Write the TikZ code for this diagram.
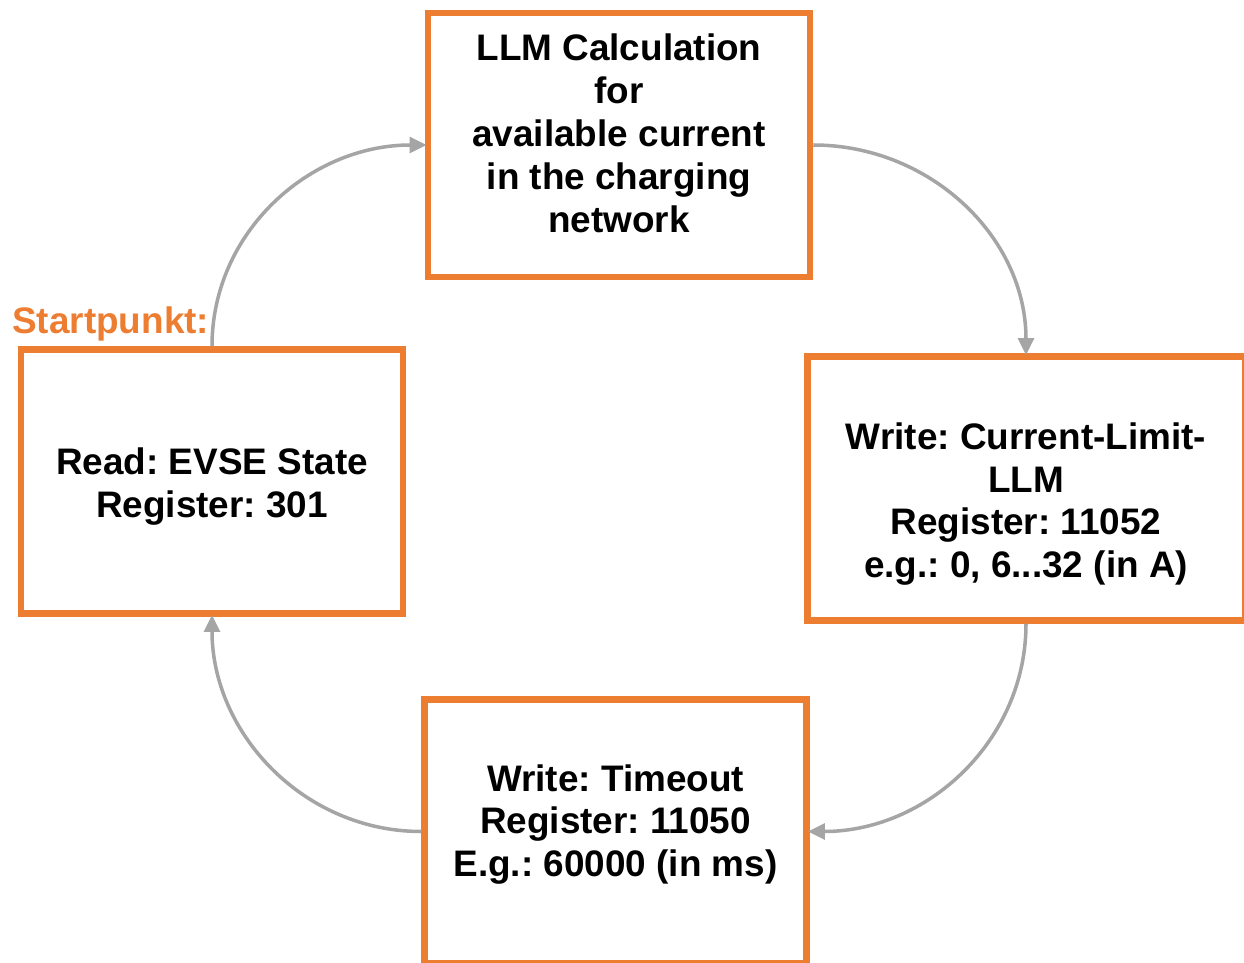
\documentclass[tikz,border=0pt]{standalone}
\usepackage{fontspec}
\setmainfont{Liberation Sans}
\frenchspacing
\usepackage{tikz}
\usetikzlibrary{arrows.meta, positioning}
\usepackage{xcolor}
\definecolor{boxorange}{HTML}{ED7D31}
\definecolor{flowgray}{HTML}{A5A5A5}
% struts that move the text inside a fixed box
\newcommand{\lowerby}[1]{\rule{0pt}{#1}}
\newcommand{\raiseby}[1]{\rule[-#1]{0pt}{#1}}

\begin{document}
\begin{tikzpicture}[
    font=\fontsize{21}{24.4}\selectfont\bfseries,
    stepbox/.style={draw=boxorange, line width=0.13cm, align=center,
                    minimum width=#1, minimum height=5.28cm, inner sep=2pt},
    flow/.style={-{Triangle[length=9.6pt, width=9pt]}, line width=2pt,
                 flowgray, shorten >=-1pt},
  ]
    \useasboundingbox (0,0) rectangle (24.88,-19.26);
    \node[stepbox=7.64cm] (calc) at (12.38,-2.90)
      {LLM Calculation\\for\\available current\\in the charging\\
       network\raiseby{13.6pt}};
    \node[stepbox=8.75cm] (limit) at (20.52,-9.77)
      {\lowerby{32.9pt}Write: Current-Limit-\\LLM\\Register: 11052\\
       e.g.: 0, 6...32 (in A)};
    \node[stepbox=7.64cm] (timeout) at (12.31,-16.63)
      {Write: Timeout\\Register: 11050\\E.g.: 60000 (in ms)\raiseby{12.4pt}};
    \node[stepbox=7.64cm] (state) at (4.24,-9.63)
      {\lowerby{20.9pt}Read: EVSE State\\Register: 301};
    \node[text=boxorange, anchor=base west, inner sep=0pt] (start)
      at (0.24,-6.66) {Startpunkt:};
    \draw[flow] (state.north) to[out=90, in=180] (calc.west);
    \draw[flow] (calc.east) to[out=0, in=90] (limit.north);
    \draw[flow] (limit.south) to[out=-90, in=0] (timeout.east);
    \draw[flow] (timeout.west) to[out=180, in=-90] (state.south);
  \end{tikzpicture}
\end{document}
